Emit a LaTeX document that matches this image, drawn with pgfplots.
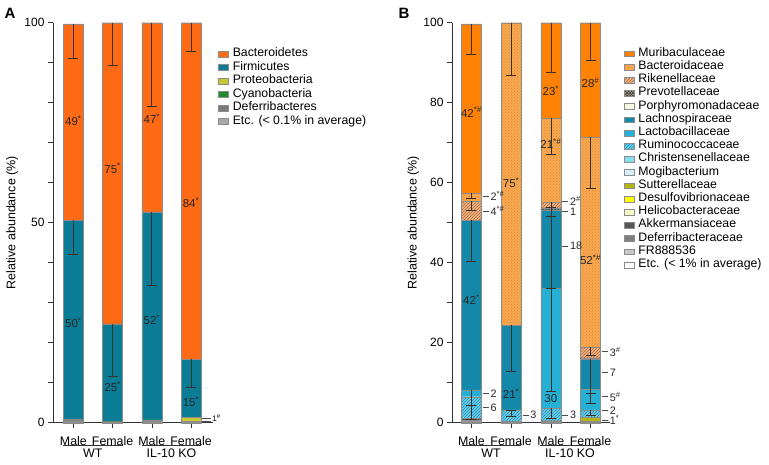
\documentclass[border=0pt]{standalone}
\usepackage{fontspec}
\setmainfont{Liberation Sans}
\usepackage{pgfplots}
\pgfplotsset{compat=1.18}
\usetikzlibrary{patterns}

\definecolor{bactA}{HTML}{FF6A14}
\definecolor{firmA}{HTML}{0B7C95}
\definecolor{proteoA}{HTML}{C8C832}
\definecolor{cyanoA}{HTML}{1E8C28}
\definecolor{deferA}{HTML}{7A7A7A}
\definecolor{etcA}{HTML}{A8A8A8}
\definecolor{murib}{HTML}{FF8205}
\definecolor{bactd}{HTML}{F7A850}
\definecolor{bactdot}{HTML}{E58A2E}
\definecolor{riken}{HTML}{EDB58C}
\definecolor{rikenl}{HTML}{B8662A}
\definecolor{prevo}{HTML}{A09888}
\definecolor{prevol}{HTML}{404040}
\definecolor{porph}{HTML}{FAFAE4}
\definecolor{lachno}{HTML}{1388A8}
\definecolor{lacto}{HTML}{25B0D6}
\definecolor{rumino}{HTML}{6CCDE8}
\definecolor{ruminol}{HTML}{1E90B8}
\definecolor{christ}{HTML}{88DCEF}
\definecolor{mogi}{HTML}{D4F0FA}
\definecolor{sutter}{HTML}{B4B414}
\definecolor{desulfo}{HTML}{FFFF00}
\definecolor{helico}{HTML}{F4F8C8}
\definecolor{akker}{HTML}{555555}
\definecolor{deferB}{HTML}{808080}
\definecolor{frc}{HTML}{C8C8C8}
\definecolor{etcB}{HTML}{FFFFFF}
\definecolor{axc}{HTML}{333333}
\definecolor{errc}{HTML}{3A3028}

\pgfplotsset{
  base/.style={scale only axis, height=400pt, ymin=0, ymax=100, clip=false,
    /pgf/number format/assume math mode=true},
  frame/.style={base,
    axis lines*=left,
    axis line style={axc, line width=0.6pt},
    tick style={axc, line width=0.6pt},
    tick align=outside,
    major tick length=5pt,
    xtick={0,1,2,3},
    xticklabels={Male,Female,Male,Female},
    xticklabel style={font=\fontsize{12.4}{13}\selectfont, anchor=center, yshift=-13.5pt},
    yticklabel style={font=\fontsize{12}{13}\selectfont},
    ytick={0,10,...,100},
    ylabel={Relative abundance (\%)},
    ylabel style={font=\fontsize{12.5}{14}\selectfont, anchor=center},
    ybar stacked, bar width=20pt,
    reverse legend,
    legend cell align=left,
    legend image code/.code={\draw[##1, line width=0.4pt] (0pt,-2.9pt) rectangle (10pt,2.9pt); \path (14pt,0pt);},
    legend style={draw=none, fill=none, anchor=north west, inner sep=0pt, outer sep=0pt,
       row sep=0pt, nodes={inner sep=0pt, text depth=}},
  },
  over/.style={base, hide axis},
  seg/.style={draw=black!45, line width=0.3pt},
  eb/.style={draw=none, mark=none, forget plot,
    error bars/.cd, y dir=minus, y explicit, error mark=none,
    error bar style={draw=errc, line width=0.7pt, solid}},
  caps/.style={only marks, mark=-, mark size=5pt, forget plot,
    mark options={draw=errc, line width=0.7pt, solid}},
}
\tikzset{
 lab/.style={font=\fontsize{11.5}{12}\selectfont, text=black!85, inner sep=0pt},
 rlab/.style={font=\fontsize{10.8}{12}\selectfont, text=black!85, inner sep=0pt, anchor=west},
 ldr/.style={draw=black!70, line width=0.6pt},
}
\newcommand\rl[3]{%
  \draw[ldr] (axis cs:{#1+0.29},#2) -- (axis cs:{#1+0.44},#2);
  \node[rlab] at (axis cs:{#1+0.48},#2) {#3};}

\begin{document}
\begin{tikzpicture}
\path[use as bounding box] (0,0) rectangle (769pt,465pt);

% ---------------- Panel A ----------------
\begin{axis}[frame, at={(53pt,42.3pt)}, anchor=south west, width=160pt,
  xmin=-0.52, xmax=3.56,
  yticklabels={0,,,,,50,,,,,100},
  ylabel style={at={(axis description cs:-0.256,0.5)}},
  legend style={at={(1.034,0.939)}, font=\fontsize{12.3}{13.5}\selectfont}]
\addplot[seg, fill=etcA] coordinates {(0,0.1) (1,0.1) (2,0.05) (3,0.05)};
\addlegendentry{\strut Etc. (< 0.1\% in average)}
\addplot[seg, fill=deferA] coordinates {(0,0.4) (1,0.1) (2,0.1) (3,0.25)};
\addlegendentry{\strut Deferribacteres}
\addplot[seg, fill=cyanoA] coordinates {(0,0.2) (1,0.05) (2,0.15) (3,0.1)};
\addlegendentry{\strut Cyanobacteria}
\addplot[seg, fill=proteoA] coordinates {(0,0.1) (1,0.05) (2,0.4) (3,1.0)};
\addlegendentry{\strut Proteobacteria}
\addplot[seg, fill=firmA] coordinates {(0,49.8) (1,24.4) (2,52.0) (3,14.4)};
\addlegendentry{\strut Firmicutes}
\addplot[seg, fill=bactA] coordinates {(0,49.1) (1,75.3) (2,47.3) (3,84.2)};
\addlegendentry{\strut Bacteroidetes}
\end{axis}

\begin{axis}[over, at={(53pt,42.3pt)}, anchor=south west, width=160pt,
  xmin=-0.52, xmax=3.56]
\addplot[eb] coordinates {(0,99.7) -= (0,8.7) (0,50.6) -= (0,8.6)
  (1,100) -= (0,10.6) (1,24.7) -= (0,13.0)
  (2,100) -= (0,20.8) (2,52.7) -= (0,18.4)
  (3,100) -= (0,7.1) (3,15.8) -= (0,7.0)};
\addplot[caps] coordinates {(0,91) (0,42) (1,89.4) (1,11.7) (2,79.2) (2,34.3) (3,92.9) (3,8.8)};
\node[lab] at (axis cs:0,75.4) {49\textsuperscript{*}};
\node[lab] at (axis cs:0,25) {50\textsuperscript{*}};
\node[lab] at (axis cs:1,63.6) {75\textsuperscript{*}};
\node[lab] at (axis cs:1,9) {25\textsuperscript{*}};
\node[lab] at (axis cs:2,76) {47\textsuperscript{*}};
\node[lab] at (axis cs:2,25.7) {52\textsuperscript{*}};
\node[lab] at (axis cs:3,55) {84\textsuperscript{*}};
\node[lab] at (axis cs:3,5.3) {15\textsuperscript{*}};
\draw[ldr, line width=0.5pt] (axis cs:3.28,1.0) -- (axis cs:3.52,1.0);
\draw[ldr, line width=0.5pt] (axis cs:3.28,0.35) -- (axis cs:3.52,0.35);
\node[anchor=west, inner sep=0pt, font=\fontsize{8}{9}\selectfont] at (axis cs:3.54,1.1) {1\textsuperscript{\#}};
\end{axis}

\draw[axc, line width=0.6pt] (63pt,20pt) -- (122.5pt,20pt);
\draw[axc, line width=0.6pt] (142pt,20pt) -- (200.7pt,20pt);
\node[font=\fontsize{12.4}{13}\selectfont] at (92.7pt,11.5pt) {WT};
\node[font=\fontsize{12.4}{13}\selectfont] at (171.5pt,11.5pt) {IL-10 KO};
\node[font=\fontsize{15}{16}\selectfont\bfseries] at (10pt,452pt) {A};

% ---------------- Panel B ----------------
\begin{axis}[frame, at={(452pt,42.3pt)}, anchor=south west, width=158pt,
  xmin=-0.49, xmax=3.49,
  yticklabels={0,,20,,40,,60,,80,,100},
  ylabel style={at={(axis description cs:-0.245,0.5)}},
  legend style={at={(1.089,0.939)}, font=\fontsize{12.3}{13.2}\selectfont}]
\addplot[seg, fill=etcB] coordinates {(0,0.2) (1,0.1) (2,0.1) (3,0.1)};
\addlegendentry{\strut Etc. (< 1\% in average)}
\addplot[seg, fill=frc] coordinates {(0,0.1) (1,0) (2,0) (3,0)};
\addlegendentry{\strut FR888536}
\addplot[seg, fill=deferB] coordinates {(0,0.3) (1,0.1) (2,0.1) (3,0.1)};
\addlegendentry{\strut Deferribacteraceae}
\addplot[seg, fill=akker] coordinates {(0,0.5) (1,0.2) (2,0.3) (3,0.2)};
\addlegendentry{\strut Akkermansiaceae}
\addplot[seg, fill=helico] coordinates {(0,0) (1,0) (2,0) (3,0)};
\addlegendentry{\strut Helicobacteraceae}
\addplot[seg, fill=desulfo] coordinates {(0,0) (1,0) (2,0) (3,0.1)};
\addlegendentry{\strut Desulfovibrionaceae}
\addplot[seg, fill=sutter] coordinates {(0,0) (1,0) (2,0) (3,0.8)};
\addlegendentry{\strut Sutterellaceae}
\addplot[seg, fill=mogi] coordinates {(0,0) (1,0) (2,0) (3,0)};
\addlegendentry{\strut Mogibacterium}
\addplot[seg, fill=christ] coordinates {(0,0) (1,0) (2,0) (3,0)};
\addlegendentry{\strut Christensenellaceae}
\addplot[seg, fill=rumino, postaction={pattern=north east lines, pattern color=ruminol}] coordinates {(0,5.4) (1,2.8) (2,3.2) (3,1.9)};
\addlegendentry{\strut Ruminococcaceae}
\addplot[seg, fill=lacto] coordinates {(0,1.7) (1,0) (2,29.9) (3,5.1)};
\addlegendentry{\strut Lactobacillaceae}
\addplot[seg, fill=lachno] coordinates {(0,42.4) (1,21.2) (2,19.6) (3,7.5)};
\addlegendentry{\strut Lachnospiraceae}
\addplot[seg, fill=porph] coordinates {(0,0) (1,0) (2,0) (3,0)};
\addlegendentry{\strut Porphyromonadaceae}
\addplot[seg, fill=prevo, postaction={pattern=crosshatch, pattern color=prevol}] coordinates {(0,0) (1,0) (2,0.5) (3,0.4)};
\addlegendentry{\strut Prevotellaceae}
\addplot[seg, fill=riken, postaction={pattern=north east lines, pattern color=rikenl}] coordinates {(0,4.7) (1,0) (2,1.4) (3,2.6)};
\addlegendentry{\strut Rikenellaceae}
\addplot[seg, fill=bactd, postaction={pattern=crosshatch dots, pattern color=bactdot}] coordinates {(0,2.1) (1,75.6) (2,21.0) (3,52.6)};
\addlegendentry{\strut Bacteroidaceae}
\addplot[seg, fill=murib] coordinates {(0,42.3) (1,0) (2,23.9) (3,28.6)};
\addlegendentry{\strut Muribaculaceae}
\end{axis}

\begin{axis}[over, at={(452pt,42.3pt)}, anchor=south west, width=158pt,
  xmin=-0.49, xmax=3.49]
\addplot[eb] coordinates {(0,99.7) -= (0,7.6) (0,57.4) -= (0,1.2) (0,55.3) -= (0,2.3)
  (0,50.6) -= (0,10.3) (0,8.2) -= (0,3.8) (0,4.4) -= (0,3.6)
  (1,100) -= (0,13.1) (1,24.4) -= (0,11.6) (1,3.2) -= (0,1.5)
  (2,100) -= (0,12.5) (2,76.1) -= (0,9.0) (2,55.1) -= (0,1.2) (2,53.7) -= (0,2.0)
  (2,53.2) -= (0,19.6) (2,33.6) -= (0,25.8) (2,3.7) -= (0,2.7)
  (3,100) -= (0,9.5) (3,71.4) -= (0,12.8) (3,18.8) -= (0,2.0)
  (3,15.8) -= (0,8.5) (3,8.3) -= (0,3.4) (3,3.2) -= (0,1.4)};
\addplot[caps] coordinates {(0,92.1) (0,56.2) (0,53.0) (0,40.3) (0,4.4) (0,0.8)
  (1,86.9) (1,12.8) (1,1.7) (1,3.0)
  (2,87.5) (2,67.1) (2,53.9) (2,51.7) (2,33.6) (2,7.8) (2,1.0)
  (3,90.5) (3,58.6) (3,16.8) (3,7.3) (3,4.9) (3,1.8)};
\node[lab] at (axis cs:0,77.6) {42\textsuperscript{*\#}};
\node[lab] at (axis cs:0,30.7) {42\textsuperscript{*}};
\node[lab] at (axis cs:1,60) {75\textsuperscript{*}};
\node[lab] at (axis cs:1,7.3) {21\textsuperscript{*}};
\node[lab] at (axis cs:2,83) {23\textsuperscript{*}};
\node[lab] at (axis cs:2,69.7) {21\textsuperscript{*\#}};
\node[lab] at (axis cs:2,6.1) {30};
\node[lab] at (axis cs:3,85) {28\textsuperscript{\#}};
\node[lab] at (axis cs:3,40.7) {52\textsuperscript{*\#}};
\rl{0}{56.6}{2\textsuperscript{*\#}}
\rl{0}{52.9}{4\textsuperscript{*\#}}
\rl{0}{7.3}{2}
\rl{0}{3.8}{6}
\rl{1}{1.9}{3}
\rl{2}{55.4}{2\textsuperscript{\#}}
\rl{2}{52.8}{1}
\rl{2}{44.2}{18}
\rl{2}{1.9}{3}
\rl{3}{17.75}{3\textsuperscript{\#}}
\rl{3}{12.5}{7}
\rl{3}{6.5}{5\textsuperscript{\#}}
\rl{3}{3.1}{2}
\rl{3}{0.6}{1\textsuperscript{*}}
\end{axis}

\draw[axc, line width=0.6pt] (461.5pt,20pt) -- (520.5pt,20pt);
\draw[axc, line width=0.6pt] (540pt,20pt) -- (600pt,20pt);
\node[font=\fontsize{12.4}{13}\selectfont] at (491pt,11.5pt) {WT};
\node[font=\fontsize{12.4}{13}\selectfont] at (570pt,11.5pt) {IL-10 KO};
\node[font=\fontsize{15}{16}\selectfont\bfseries] at (404pt,452pt) {B};
\end{tikzpicture}
\end{document}
